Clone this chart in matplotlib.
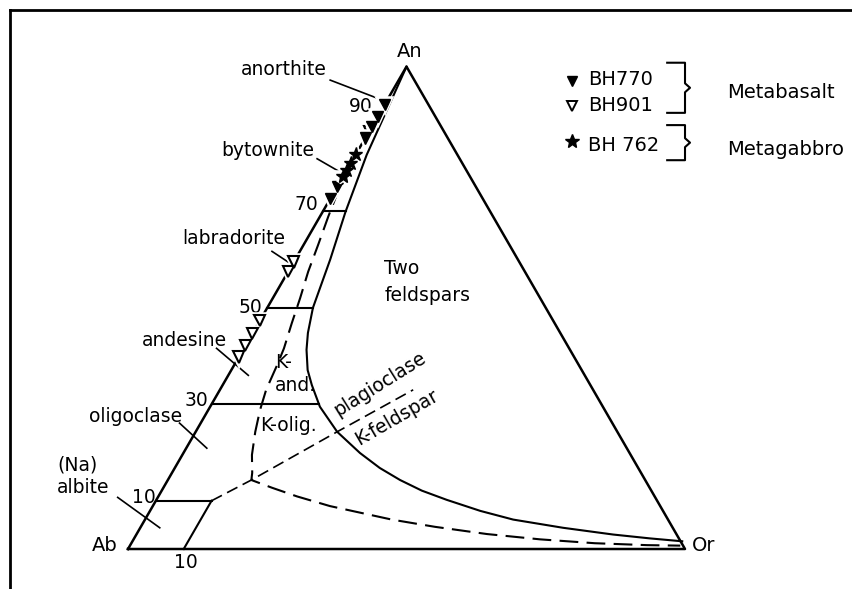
import numpy as np
import matplotlib.pyplot as plt
import matplotlib.patheffects as pe

# ternary points are given as (An %, Or %); Ab is the remainder
solvus_an = [100, 81.7, 69.9, 60.0, 50.0, 44.8, 41.3, 37.1, 34.0, 29.5, 24.3,
             19.9, 16.8, 14.3, 12.1, 10.2, 7.9, 6.1, 4.4, 3.0, 2.2, 1.6]
solvus_or = [0, 2.0, 4.1, 6.3, 8.2, 9.9, 11.4, 13.7, 16.0, 19.7, 25.4,
             31.7, 36.8, 41.7, 46.7, 52.1, 59.3, 66.1, 75.9, 85.6, 92.6, 98.7]

dashed_an = [75, 68.9, 63.1, 57.5, 52.0, 46.8, 41.6, 38.2, 33.0, 28.8, 24.3,
             19.5, 15.8, 14.3, 12.7, 10.9, 8.9, 7.4, 6.1, 4.6, 3.1, 2.0, 1.2,
             0.8, 0.7]
dashed_or = [0.5, 1.5, 2.6, 3.6, 4.9, 6.0, 7.2, 7.7, 8.3, 9.3, 10.7,
             12.5, 14.4, 15.0, 19.5, 24.9, 31.8, 38.5, 44.3, 52.8, 62.9, 73.0,
             83.2, 92.8, 98.8]

# plagioclase / K-feldspar divide
tie_an = [10, 14.3, 24.3, 33.0]
tie_or = [10, 15.0, 25.4, 34.7]

# An lines from the Ab-An side to the boundary
grid_an = [10, 30, 50, 70]
grid_or_end = [10, 19.3, 8.2, 4.1]

# analyses (plotted on the Ab-An join)
bh770_an = [92.2, 89.6, 87.5, 85.2, 76.8, 75.2, 72.7]
bh901_an = [86.6, 59.5, 57.5, 47.3, 44.6, 42.1, 39.8]
bh762_an = [81.8, 80.0, 78.5, 77.2]

# plagioclase names: leader start/end as (An, Or)
names = ["anorthite", "bytownite", "labradorite", "andesine", "oligoclase", "albite"]
leader_an = [(97.2, 93.1), (80.9, 77.9), (61.7, 58.5), (41.6, 36.0), (26.1, 20.9), (10.7, 4.4)]
leader_or = [(-12.3, -1.0), (-6.5, -0.5), (-5.0, 0.8), (-4.9, 3.6), (-3.8, 3.7), (-7.2, 3.5)]


def tern(an, orr):
    an = np.asarray(an, dtype=float)
    orr = np.asarray(orr, dtype=float)
    return orr + an / 2, an * np.sqrt(3) / 2


fig = plt.figure(figsize=(8.52, 5.89), dpi=100)
ax = fig.add_axes([0, 0, 1, 1])
ax.set_xlim(-22.98, 129.98)
ax.set_ylim(-7.18, 98.56)
ax.axis("off")

# border of the original figure (top and left only)
ax.plot([-21.2, 130], [96.8, 96.8], color="black", lw=2)
ax.plot([-21.2, -21.2], [96.8, -8], color="black", lw=2)

# triangle
ax.plot(*tern([0, 0, 100, 0], [0, 100, 0, 0]), color="black", lw=1.8, zorder=2)

ax.plot(*tern(solvus_an, solvus_or), color="black", lw=1.5)
ax.plot(*tern(dashed_an, dashed_or), color="black", lw=1.5, dashes=(9, 4))
ax.plot(*tern(tie_an, tie_or), color="black", lw=1.2, dashes=(7, 3.5))

for a, o in zip(grid_an, grid_or_end):
    ax.plot(*tern([a, a], [0, o]), color="black", lw=1.5)
ax.plot(*tern([0, 10], [10, 10]), color="black", lw=1.5)

for a, o in zip(leader_an, leader_or):
    ax.plot(*tern(a, o), color="black", lw=1.2)

halo = [pe.Stroke(linewidth=4, foreground="white"), pe.Normal()]
ax.plot(*tern(bh901_an, np.zeros(len(bh901_an))), "v", ms=8, mfc="white",
        mec="black", mew=1.5, ls="none", zorder=5, path_effects=halo)
ax.plot(*tern(bh770_an, np.zeros(len(bh770_an))), "v", ms=8, color="black",
        ls="none", zorder=6, path_effects=halo)
ax.plot(*tern(bh762_an, np.zeros(len(bh762_an))), "*", ms=10, color="black",
        ls="none", zorder=6, path_effects=halo)

fs = 13.5
ax.text(50.6, 89.4, "An", fontsize=14, ha="center", va="center")
ax.text(-4.2, 0.7, "Ab", fontsize=14, ha="center", va="center")
ax.text(103.4, 0.7, "Or", fontsize=14, ha="center", va="center")

ax.text(28.0, 86.0, "anorthite", fontsize=fs, ha="center", va="center")
ax.text(25.1, 71.5, "bytownite", fontsize=fs, ha="center", va="center")
ax.text(28.2, 55.8, "labradorite", fontsize=fs, ha="right", va="center")
ax.text(10.1, 37.5, "andesine", fontsize=fs, ha="center", va="center")
ax.text(9.7, 23.7, "oligoclase", fontsize=fs, ha="right", va="center")
ax.text(-12.7, 15.1, "(Na)", fontsize=fs, ha="left", va="center")
ax.text(-12.7, 11.0, "albite", fontsize=fs, ha="left", va="center")

for lab, x, y in [("90", 41.8, 79.5), ("70", 32.0, 61.8), ("50", 21.9, 43.4),
                  ("30", 12.2, 26.6), ("10", 2.9, 9.3), ("10", 10.4, -2.5)]:
    ax.text(x, y, lab, fontsize=fs, ha="center", va="center")

ax.text(46.0, 50.3, "Two", fontsize=fs, ha="left", va="center")
ax.text(46.0, 45.6, "feldspars", fontsize=fs, ha="left", va="center")
ax.text(26.4, 33.4, "K-", fontsize=fs, ha="left", va="center")
ax.text(26.4, 29.3, "and.", fontsize=fs, ha="left", va="center")
ax.text(23.7, 22.1, "K-olig.", fontsize=fs, ha="left", va="center")
ax.text(45.2, 29.6, "plagioclase", fontsize=fs, ha="center", va="center",
        rotation=32, rotation_mode="anchor")
ax.text(48.3, 23.6, "K-feldspar", fontsize=fs, ha="center", va="center",
        rotation=30, rotation_mode="anchor")

# legend
ax.plot(79.7, 84.0, "v", ms=7, color="black")
ax.plot(79.7, 79.5, "v", ms=7, mfc="white", mec="black", mew=1.4)
ax.plot(79.7, 73.2, "*", ms=10, color="black")
ax.text(82.6, 84.2, "BH770", fontsize=14, ha="left", va="center")
ax.text(82.6, 79.7, "BH901", fontsize=14, ha="left", va="center")
ax.text(82.6, 72.4, "BH 762", fontsize=14, ha="left", va="center")
for top, bot in [(87.3, 78.3), (76.1, 69.8)]:
    mid = (top + bot) / 2
    ax.plot([96.8, 100, 100, 100.9, 100, 100, 96.8],
            [top, top, mid + 0.8, mid, mid - 0.8, bot, bot], color="black", lw=1.5)
ax.text(107.5, 82.0, "Metabasalt", fontsize=14, ha="left", va="center")
ax.text(107.5, 71.8, "Metagabbro", fontsize=14, ha="left", va="center")

fig.savefig("out.png", dpi=100)
